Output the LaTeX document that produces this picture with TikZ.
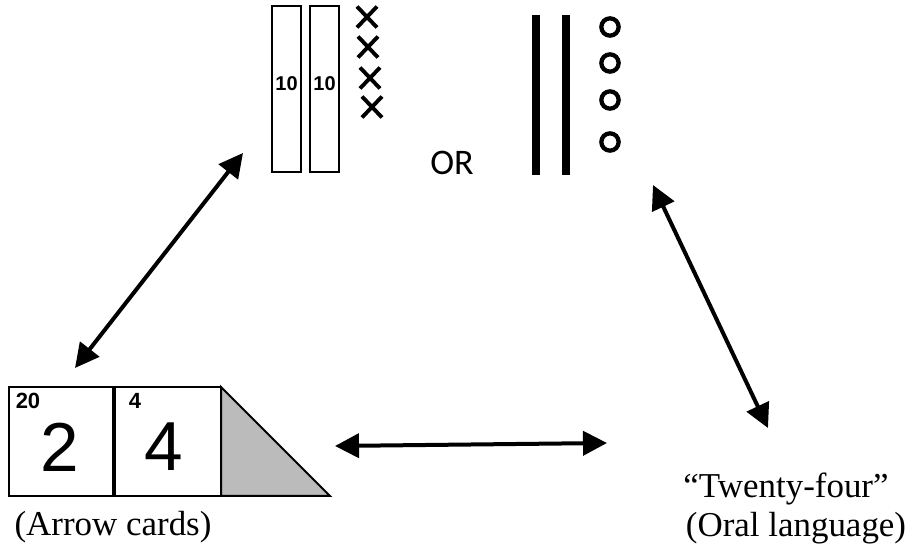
\documentclass[tikz,border=0pt]{standalone}
\usepackage{fontspec}
\setmainfont{Liberation Serif}
\newfontfamily\arialf{Liberation Sans}
\newfontfamily\orfont{Carlito}
\usetikzlibrary{arrows.meta}
\definecolor{flapgray}{HTML}{BBBBBB}
\tikzset{
  strip/.style={draw=black, line width=1.5pt},
  cross/.style={line width=2.9pt},
  bar/.style={line width=6pt},
  ring/.style={line width=3.2pt},
  card/.style={draw=black, line width=1.5pt, fill=white},
  dblarrow/.style={line width=3pt, {Triangle[length=18pt,width=18pt]}-{Triangle[length=18pt,width=18pt]}, shorten <=0pt, shorten >=0pt},
  small/.style={font=\arialf\bfseries\fontsize{15}{15}\selectfont, inner sep=0pt},
  big/.style={font=\arialf\fontsize{52}{52}\selectfont, inner sep=0pt},
  caption/.style={font=\fontsize{26.2}{28}\selectfont, inner sep=0pt}
}
\begin{document}
\begin{tikzpicture}[x=0.75pt,y=-0.75pt]
\path[use as bounding box] (0,0) rectangle (910,548);
% tens strips
\draw[strip] (272,6) rectangle (301,172);
\draw[strip] (310,6) rectangle (339,172);
\node[small] (t1) at (286.5,84) {10};
\node[small] (t2) at (324.5,84) {10};
% crosses
\foreach \cx/\cy [count=\i] in {367/17, 368/47, 370/78, 372/107}{
  \draw[cross] (\cx-10,\cy-10.5) -- (\cx+10,\cy+10.5);
  \draw[cross] (\cx-10,\cy+10.5) -- (\cx+10,\cy-10.5);
}
% OR
\node[font=\orfont\fontsize{27}{27}\selectfont, inner sep=0pt] (or) at (452,163) {OR};
% bars
\draw[bar] (536,15) -- (536,175);
\draw[bar] (566,15) -- (566,175);
% circles
\foreach \cy in {27,63,100,142}{
  \draw[ring] (610,\cy) circle (6.5pt);
}
% arrow cards
\draw[card] (9,387) rectangle (113,496);
\draw[card] (115,387) rectangle (221,496);
\draw[line width=1.5pt, fill=flapgray, line join=miter] (221,387) -- (330,496) -- (221,496) -- cycle;
\node[small, font=\arialf\bfseries\fontsize{16.5}{16.5}\selectfont] (s20) at (28,401) {20};
\node[small, font=\arialf\bfseries\fontsize{16.5}{16.5}\selectfont] (s4) at (135,401) {4};
\node[big] (b2) at (60,447) {2};
\node[big] (b4) at (164,447) {4};
% captions
\node[caption] (ac) at (113,527) {(Arrow cards)};
\node[caption] (tf) at (786,489) {“Twenty-four”};
\node[caption] (ol) at (796,528) {(Oral language)};
% arrow endpoints
\coordinate (a1) at (243,153);
\coordinate (a2) at (75,368);
\coordinate (b1) at (653,185);
\coordinate (b2e) at (768,428);
\coordinate (c1) at (335,446);
\coordinate (c2) at (607,443);
\draw[dblarrow] (a2) -- (a1);
\draw[dblarrow] (b1) -- (b2e);
\draw[dblarrow] (c1) -- (c2);
\end{tikzpicture}
\end{document}
